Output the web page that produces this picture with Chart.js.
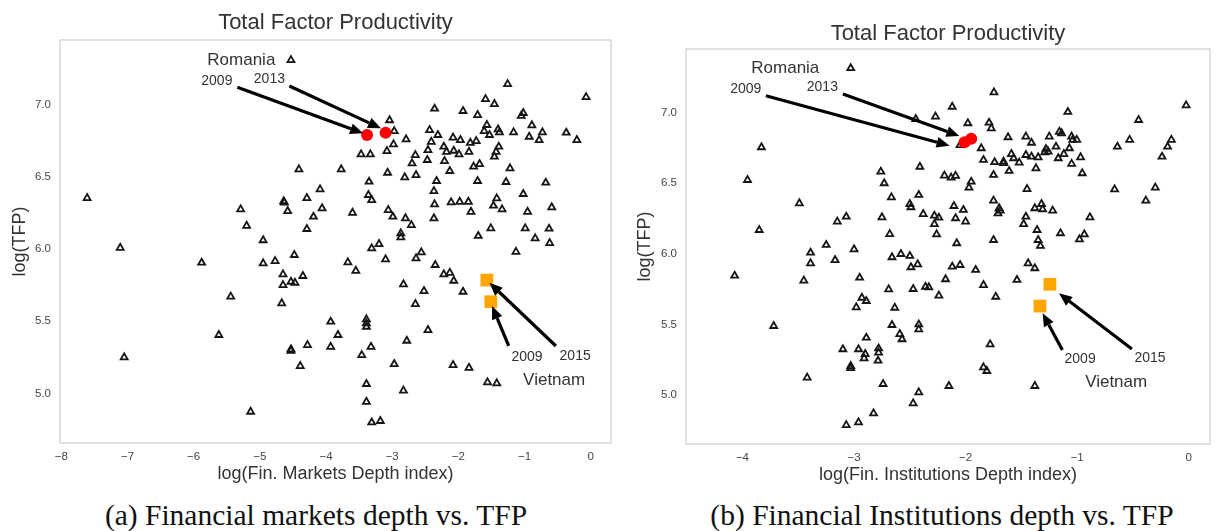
<!DOCTYPE html>
<html>
<head>
<meta charset="utf-8">
<title>Total Factor Productivity vs. financial depth</title>
<script src="https://cdn.jsdelivr.net/npm/chart.js@4.4.1/dist/chart.umd.min.js"></script>
<style>
  body { margin: 0; background: #fff; width: 1219px; height: 531px; overflow: hidden; position: relative; }
  .panel { position: absolute; top: 0; }
  .caption { position: absolute; top: 500px; width: 600px; font-family: 'Liberation Serif', 'DejaVu Serif', serif; font-size: 29.5px; line-height: 30px; color: #111; text-align: center; white-space: nowrap; }
</style>
</head>
<body>
<div class="panel" style="left:0"><canvas id="marketsChart" width="620" height="490"></canvas></div>
<div class="panel" style="left:620px"><canvas id="institutionsChart" width="599" height="490"></canvas></div>
<div class="caption" style="left:16px">(a) Financial markets depth vs. TFP</div>
<div class="caption" style="left:642px">(b) Financial Institutions depth vs. TFP</div>
<script>
// tick values
const xTicksMarkets = [-8, -7, -6, -5, -4, -3, -2, -1, 0];
const xTicksInstitutions = [-4, -3, -2, -1, 0];
const yTicksTfp = [5.0, 5.5, 6.0, 6.5, 7.0];

// log(Fin. Markets Depth index) / log(TFP), all country-years
const marketsX = [
  -4.53, -7.61, -4.41, -5.29, -5.20, -4.95, -4.64, -4.63, -4.58, -4.29, -4.19, -4.29, -4.09, -4.06,
  -1.256, -0.07, -1.59, -1.456, -2.36, -1.93, -1.71, -1.02, -1.05, -3.04, -0.89, -1.57, -2.97, -2.435,
  -2.31, -2.08, -1.97, -1.61, -1.53, -1.40, -1.38, -1.166, -0.93, -0.73, -0.78, -0.37, -0.21, -2.79,
  -2.41, -1.82, -1.73, -2.98, -3.08, -2.22, -2.18, -2.07, -1.99, -1.84, -2.46, -1.39, -1.43, -1.456,
  -3.47, -3.33, -2.65, -2.70, -2.47, -2.21, -2.13, -1.77, -1.68, -1.22, -3.77, -3.07, -2.81, -2.64,
  -3.35, -2.33, -1.71, -1.28, -0.68, -3.60, -3.36, -3.31, -3.06, -2.99, -2.80, -2.71, -2.37, -2.36,
  -2.37, -2.11, -1.98, -1.85, -1.81, -1.42, -1.47, -1.34, -1.02, -0.955, -0.59, -1.51, -1.70, -0.99,
  -0.84, -0.63, -0.62, -2.87, -2.87, -3.31, -3.20, -2.56, -1.13,
  -7.11, -5.88, -5.44, -5.62, -7.05, -5.14, -4.95, -4.77, -4.48, -4.65, -4.53, -4.47, -4.35, -4.65,
  -4.67, -4.53, -4.53, -4.28, -4.39,
  -3.10, -2.64, -3.67, -3.55, -2.35, -2.22, -2.13, -2.07, -1.93, -2.83, -2.52, -2.65, -3.93, -3.39,
  -3.39, -3.39, -3.82, -3.93, -3.32, -3.46, -2.78, -2.46, -2.97, -2.08, -1.84, -1.56, -1.42, -3.39,
  -2.83, -3.39, -3.31, -3.18
];
const marketsY = [
  7.306, 6.352, 6.55, 6.274, 6.16, 6.06, 6.33, 6.32, 6.262, 6.352, 6.223, 6.138, 6.412, 6.281,
  7.14, 7.05, 7.036, 7.002, 6.97, 6.954, 6.926, 6.94, 6.92, 6.89, 6.855, 6.857, 6.815, 6.822,
  6.788, 6.77, 6.753, 6.815, 6.788, 6.827, 6.806, 6.806, 6.776, 6.806, 6.753, 6.804, 6.753, 6.758,
  6.741, 6.734, 6.746, 6.723, 6.677, 6.707, 6.672, 6.679, 6.654, 6.672, 6.684, 6.707, 6.672, 6.638,
  6.654, 6.654, 6.649, 6.592, 6.615, 6.608, 6.539, 6.569, 6.587, 6.557, 6.55, 6.527, 6.495, 6.511,
  6.465, 6.47, 6.47, 6.463, 6.458, 6.25, 6.373, 6.338, 6.269, 6.223, 6.212, 6.165, 6.40, 6.308,
  6.212, 6.322, 6.326, 6.326, 6.257, 6.35, 6.299, 6.274, 6.38, 6.257, 6.288, 6.142, 6.09, 6.142,
  6.073, 6.14, 6.04, 6.108, 6.08, 6.004, 6.034, 5.976, 5.98,
  6.008, 5.905, 5.67, 5.405, 5.25, 4.874, 5.90, 5.916, 5.958, 5.824, 5.773, 5.766, 5.813, 5.75,
  5.624, 5.306, 5.296, 5.335, 5.19,
  5.928, 5.935, 5.907, 5.849, 5.889, 5.824, 5.835, 5.78, 5.704, 5.755, 5.709, 5.619, 5.497, 5.513,
  5.486, 5.462, 5.405, 5.323, 5.323, 5.266, 5.365, 5.439, 5.204, 5.197, 5.178, 5.077, 5.07, 5.066,
  5.02, 4.943, 4.80, 4.81
];

// log(Fin. Institutions Depth index) / log(TFP), all country-years
const institutionsX = [
  -3.03, -2.447, -3.83, -3.955, -2.76, -2.73, -2.41, -2.665, -2.42, -2.50, -2.49, -2.38, -3.49, -3.15,
  -3.07, -2.75, -3.85, -2.68,
  -3.25, -3.39, -3.39, -3.00, -3.17, -4.07, -3.45, -2.95, -2.66, -2.58, -2.50, -2.49, -2.43, -2.69,
  -2.47, -2.36, -2.33, -2.93, -2.89, -2.98, -2.635, -3.72, -2.66, -2.59, -2.57, -2.42, -2.42, -3.10,
  -2.96, -2.89, -2.90, -2.91, -2.78, -2.78, -2.785, -3.03, -3.03, -3.42, -2.74, -2.42, -2.47, -2.825,
  -2.96, -3.07,
  -1.746, -0.024, -2.12, -1.084, -2.27, -1.98, -1.79, -1.77, -0.45, -1.62, -1.46, -1.41, -1.25, -1.16,
  -1.14, -1.05, -1.04, -1.004, -1.19, -1.28, -1.29, -1.26, -1.07, -0.64, -0.53, -0.156, -0.19, -0.24,
  -1.86, -1.84, -1.74, -1.66, -1.66, -1.59, -1.57, -1.52, -1.46, -1.41, -1.35, -1.61, -1.37, -1.17,
  -1.12, -1.05, -0.97, -0.955, -2.19, -2.13, -2.09, -1.75, -1.95, -1.97, -1.45, -0.665, -0.30, -0.385,
  -2.105, -2.02, -2.28, -2.24, -2.28, -2.09, -2.00, -1.75, -1.70, -1.69, -1.71, -1.38, -1.32, -1.31,
  -1.22, -1.46, -1.48, -0.886, -2.26, -2.08, -1.75, -1.36, -1.35, -1.33, -1.15, -0.936, -0.98, -2.05,
  -2.12, -2.05, -1.91, -2.18, -1.84, -2.24, -1.73, -1.54, -1.44, -1.38, -1.78, -1.84, -1.81, -2.15,
  -1.38
];
const institutionsY = [
  7.315, 6.955, 6.755, 6.523, 6.582, 6.50, 6.617, 6.40, 6.417, 6.353, 6.33, 6.282, 6.358, 6.228,
  6.263, 6.259, 6.169, 6.14,
  6.063, 6.008, 5.933, 6.032, 5.956, 5.845, 5.81, 5.831, 5.976, 5.999, 5.985, 5.905, 5.926, 5.749,
  5.751, 5.767, 5.763, 5.689, 5.666, 5.621, 5.618, 5.489, 5.496, 5.432, 5.395, 5.50, 5.465, 5.324,
  5.324, 5.406, 5.29, 5.26, 5.33, 5.30, 5.243, 5.205, 5.19, 5.123, 5.078, 5.019, 4.941, 4.87,
  4.806, 4.787,
  7.144, 7.052, 7.042, 7.005, 6.972, 6.925, 6.929, 6.889, 6.948, 6.826, 6.83, 6.787, 6.83, 6.865,
  6.854, 6.83, 6.807, 6.807, 6.759, 6.743, 6.719, 6.724, 6.748, 6.759, 6.807, 6.807, 6.759, 6.688,
  6.748, 6.665, 6.649, 6.653, 6.642, 6.707, 6.677, 6.646, 6.70, 6.688, 6.684, 6.587, 6.606, 6.677,
  6.707, 6.637, 6.684, 6.571, 6.554, 6.54, 6.552, 6.559, 6.511, 6.469, 6.459, 6.457, 6.469, 6.377,
  6.339, 6.311, 6.27, 6.256, 6.211, 6.252, 6.228, 6.377, 6.323, 6.306, 6.287, 6.323, 6.353, 6.316,
  6.306, 6.263, 6.211, 6.259, 6.138, 6.075, 6.098, 6.169, 6.098, 6.056, 6.146, 6.138, 6.103, 6.77,
  5.909, 5.921, 5.886, 5.82, 5.779, 5.704, 5.696, 5.815, 5.933, 5.898, 5.359, 5.196, 5.17, 5.064,
  5.064
];

// highlighted countries
const romaniaYears = ['2009', '2013'];
const romaniaMarketsX = [-3.38, -3.10];
const romaniaMarketsY = [6.788, 6.804];
const romaniaInstitutionsX = [-2.01, -1.95];
const romaniaInstitutionsY = [6.79, 6.815];

const vietnamYears = ['2009', '2015'];
const vietnamMarketsX = [-1.51, -1.57];
const vietnamMarketsY = [5.635, 5.785];
const vietnamInstitutionsX = [-1.334, -1.245];
const vietnamInstitutionsY = [5.63, 5.784];

const FONT = "'Liberation Sans', Arial, Helvetica, sans-serif";
Chart.defaults.font.family = FONT;

const toPoints = (xs, ys) => xs.map((x, i) => ({ x: x, y: ys[i] }));
const minusSign = v => (v < 0 ? '\u2212' : '') + Math.abs(v);

function drawArrow(ctx, x0, y0, x1, y1) {
  const head = 13, half = 5.5;
  const ang = Math.atan2(y1 - y0, x1 - x0);
  const bx = x1 - head * Math.cos(ang), by = y1 - head * Math.sin(ang);
  ctx.beginPath();
  ctx.moveTo(x0, y0);
  ctx.lineTo(bx, by);
  ctx.lineWidth = 3.2;
  ctx.strokeStyle = '#000';
  ctx.stroke();
  ctx.beginPath();
  ctx.moveTo(x1, y1);
  ctx.lineTo(bx + half * Math.sin(ang), by - half * Math.cos(ang));
  ctx.lineTo(bx - half * Math.sin(ang), by + half * Math.cos(ang));
  ctx.closePath();
  ctx.fillStyle = '#000';
  ctx.fill();
}

// plot frame, arrows and country / year labels
const notesPlugin = {
  id: 'notes',
  beforeDatasetsDraw(chart) {
    const { ctx, chartArea: a } = chart;
    ctx.save();
    ctx.strokeStyle = '#d2d2d2';
    ctx.lineWidth = 1.3;
    ctx.strokeRect(a.left, a.top, a.width, a.height);
    ctx.restore();
  },
  afterDatasetsDraw(chart, args, opts) {
    const { ctx, scales: { x, y } } = chart;
    ctx.save();
    (opts.arrows || []).forEach(ar => {
      drawArrow(ctx, x.getPixelForValue(ar.from[0]), y.getPixelForValue(ar.from[1]),
                     x.getPixelForValue(ar.to[0]), y.getPixelForValue(ar.to[1]));
    });
    ctx.fillStyle = '#333';
    ctx.textAlign = 'center';
    ctx.textBaseline = 'middle';
    (opts.labels || []).forEach(lb => {
      ctx.font = lb.size + 'px ' + FONT;
      ctx.fillText(lb.text, x.getPixelForValue(lb.at[0]), y.getPixelForValue(lb.at[1]));
    });
    ctx.restore();
  }
};

function makeChart(id, c) {
  return new Chart(document.getElementById(id), {
    type: 'scatter',
    data: {
      datasets: [
        {
          label: 'countries',
          data: c.points,
          pointStyle: 'triangle',
          pointRadius: 4,
          pointBorderWidth: 1.8,
          pointBorderColor: '#151515',
          pointBackgroundColor: 'rgba(0,0,0,0)',
          order: 3
        },
        {
          label: 'Romania',
          data: c.romania,
          pointStyle: 'circle',
          pointRadius: 6,
          pointBorderWidth: 0,
          pointBackgroundColor: '#ff0000',
          order: 2
        },
        {
          label: 'Vietnam',
          data: c.vietnam,
          pointStyle: 'rect',
          pointRadius: 9,
          pointBorderWidth: 0,
          pointBackgroundColor: '#ffa500',
          order: 1
        }
      ]
    },
    options: {
      responsive: false,
      animation: false,
      events: [],
      layout: { padding: { left: 0, right: c.padRight, top: 0, bottom: 0 } },
      plugins: {
        legend: { display: false },
        tooltip: { enabled: false },
        title: {
          display: true,
          fullSize: false,
          text: 'Total Factor Productivity',
          color: '#333',
          font: { size: 22, weight: 'normal' },
          padding: c.titlePad
        },
        notes: c.notes
      },
      scales: {
        x: {
          type: 'linear',
          min: c.xMin,
          max: c.xMax,
          afterBuildTicks: s => { s.ticks = c.xTicks.map(v => ({ value: v })); },
          afterFit: s => { s.height = c.xAxisHeight; },
          grid: { display: false, drawTicks: false },
          border: { display: false },
          ticks: { color: '#444', font: { size: 11.5 }, padding: 7, callback: v => minusSign(v) },
          title: { display: true, text: c.xTitle, color: '#333', font: { size: 18 }, padding: { top: 0, bottom: c.xTitlePad } }
        },
        y: {
          type: 'linear',
          min: c.yMin,
          max: c.yMax,
          afterBuildTicks: s => { s.ticks = yTicksTfp.map(v => ({ value: v })); },
          afterFit: s => { s.width = c.yAxisWidth; },
          grid: { display: false, drawTicks: false },
          border: { display: false },
          ticks: { color: '#444', font: { size: 11.5 }, padding: 9, callback: v => Number(v).toFixed(1) },
          title: { display: true, text: 'log(TFP)', color: '#333', font: { size: 18 }, padding: { top: c.yTitlePad, bottom: 0 } }
        }
      }
    },
    plugins: [notesPlugin]
  });
}

makeChart('marketsChart', {
  points: toPoints(marketsX, marketsY),
  romania: toPoints(romaniaMarketsX, romaniaMarketsY),
  vietnam: toPoints(vietnamMarketsX, vietnamMarketsY),
  xMin: -8.02, xMax: 0.306, yMin: 4.658, yMax: 7.445,
  xTicks: xTicksMarkets,
  xTitle: 'log(Fin. Markets Depth index)',
  padRight: 8,
  titlePad: { top: 10, bottom: 3.6 },
  xAxisHeight: 47, xTitlePad: 5,
  yAxisWidth: 60, yTitlePad: 9.5,
  notes: {
    arrows: [
      { from: [-5.34, 7.118], to: [-3.44, 6.80] },
      { from: [-4.554, 7.127], to: [-3.17, 6.834] },
      { from: [-0.527, 5.329], to: [-1.53, 5.766] },
      { from: [-1.24, 5.329], to: [-1.49, 5.605] }
    ],
    labels: [
      { text: 'Romania', at: [-5.28, 7.306], size: 17 },
      { text: romaniaYears[0], at: [-5.65, 7.163], size: 14 },
      { text: romaniaYears[1], at: [-4.856, 7.177], size: 14 },
      { text: vietnamYears[0], at: [-0.964, 5.254], size: 14 },
      { text: vietnamYears[1], at: [-0.236, 5.259], size: 14 },
      { text: 'Vietnam', at: [-0.553, 5.093], size: 17 }
    ]
  }
});

makeChart('institutionsChart', {
  points: toPoints(institutionsX, institutionsY),
  romania: toPoints(romaniaInstitutionsX, romaniaInstitutionsY),
  vietnam: toPoints(vietnamInstitutionsX, vietnamInstitutionsY),
  xMin: -4.506, xMax: 0.19, yMin: 4.653, yMax: 7.451,
  xTicks: xTicksInstitutions,
  xTitle: 'log(Fin. Institutions Depth index)',
  padRight: 1,
  titlePad: { top: 20.3, bottom: 2.3 },
  xAxisHeight: 46, xTitlePad: 4.2,
  yAxisWidth: 66, yTitlePad: 14.2,
  notes: {
    arrows: [
      { from: [-3.79, 7.12], to: [-2.144, 6.766] },
      { from: [-3.10, 7.132], to: [-2.056, 6.835] },
      { from: [-0.51, 5.326], to: [-1.163, 5.72] },
      { from: [-1.133, 5.319], to: [-1.31, 5.579] }
    ],
    labels: [
      { text: 'Romania', at: [-3.616, 7.315], size: 17 },
      { text: romaniaYears[0], at: [-3.97, 7.166], size: 14 },
      { text: romaniaYears[1], at: [-3.284, 7.18], size: 14 },
      { text: vietnamYears[0], at: [-0.974, 5.253], size: 14 },
      { text: vietnamYears[1], at: [-0.347, 5.26], size: 14 },
      { text: 'Vietnam', at: [-0.651, 5.087], size: 17 }
    ]
  }
});
</script>
</body>
</html>
